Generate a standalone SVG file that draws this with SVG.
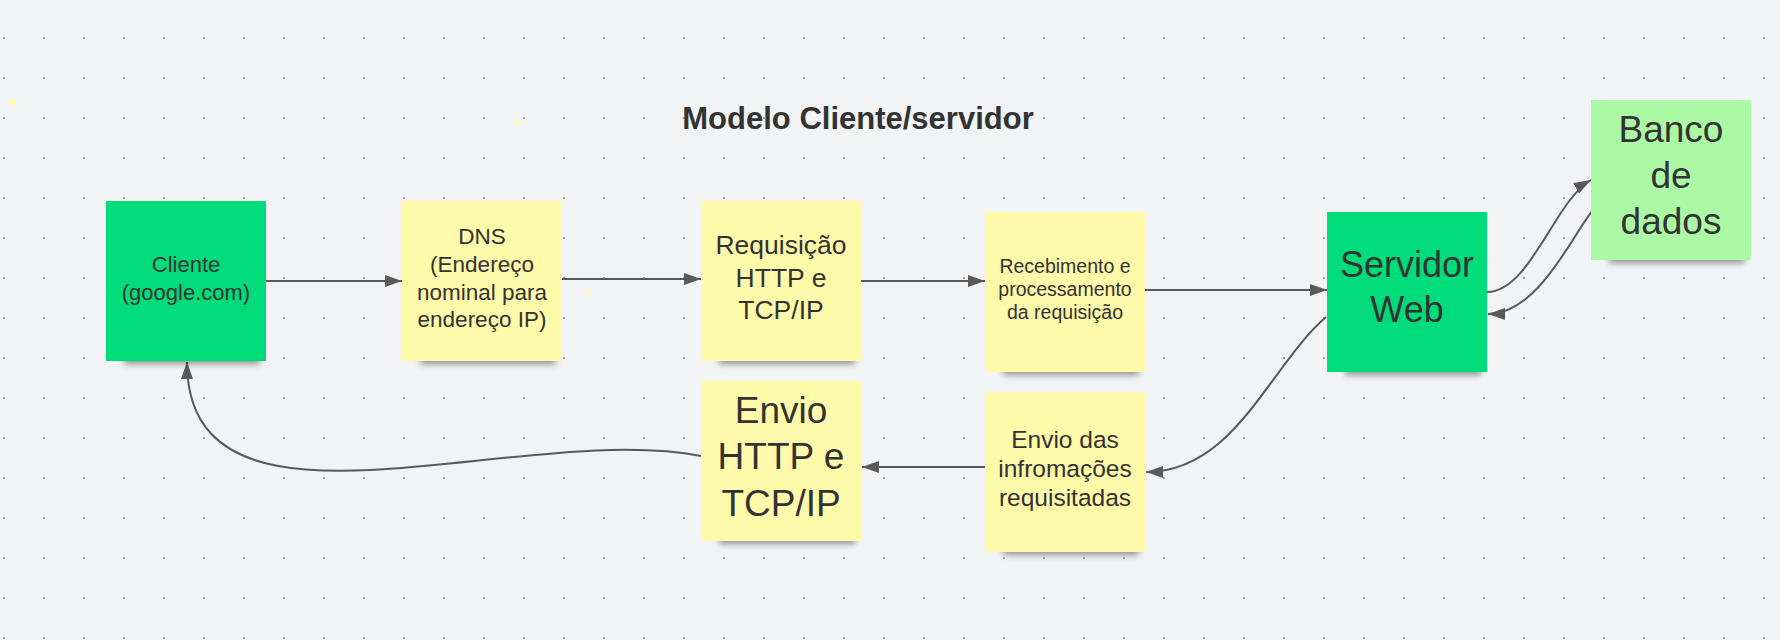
<svg xmlns="http://www.w3.org/2000/svg" width="1780" height="640" viewBox="0 0 1780 640">
  <defs>
    <pattern id="dots" x="0" y="0" width="40" height="40" patternUnits="userSpaceOnUse">
      <circle cx="4" cy="38" r="0.9" fill="#777777"/>
    </pattern>
    <filter id="blur" x="-20%" y="-100%" width="140%" height="300%">
      <feGaussianBlur stdDeviation="3"/>
    </filter>
    <marker id="arrow" markerUnits="userSpaceOnUse" markerWidth="18" markerHeight="14" refX="17" refY="6" orient="auto">
      <path d="M0,0 L17,6 L0,12 z" fill="#595959"/>
    </marker>
    <style>
      .bg { fill: #f2f3f5; }
      .shadow { fill: #000; opacity: 0.4; filter: url(#blur); }
      .green { fill: #00dc7a; }
      .lgreen { fill: #abf9a5; }
      .yellow { fill: #fff9aa; }
      .t { font-family: "Liberation Sans", Arial, sans-serif; fill: #333333; text-anchor: middle; }
      .title { font-family: "Liberation Sans", Arial, sans-serif; font-weight: bold; font-size: 31px; fill: #333333; text-anchor: middle; }
      .conn { fill: none; stroke: #595959; stroke-width: 2; marker-end: url(#arrow); }
      .spot { fill: #fff9aa; }
    </style>
  </defs>

  <rect class="bg" x="0" y="0" width="1780" height="640"/>
  <rect x="0" y="0" width="1780" height="640" fill="url(#dots)"/>

  <rect class="spot" x="10" y="100" width="5" height="5"/>
  <rect class="spot" x="515" y="120" width="5" height="5"/>
  <rect class="spot" x="585" y="290" width="5" height="5"/>

  <text class="title" x="858" y="129">Modelo Cliente/servidor</text>

  <g id="connectors">
    <path class="conn" d="M266,281 L402,281"/>
    <path class="conn" d="M562,279 L701,279"/>
    <path class="conn" d="M861,281 L985,281"/>
    <path class="conn" d="M1145,290 L1327,290"/>
    <path class="conn" d="M1487,292 C1530,292 1555,200 1591,180"/>
    <path class="conn" d="M1594,209 C1575,229 1540,314 1488,314"/>
    <path class="conn" d="M1326,317 C1270,365 1235,472 1146,472"/>
    <path class="conn" d="M985,467 L862,467"/>
    <path class="conn" d="M701,456 C520,420 187,560 187,362"/>
  </g>

  <g id="cliente">
    <rect class="shadow" x="124" y="354" width="136" height="10"/>
    <rect class="green" x="106" y="201" width="160" height="160"/>
    <text class="t" font-size="22" x="186"><tspan x="186" y="272">Cliente</tspan><tspan x="186" y="299.5">(google.com)</tspan></text>
  </g>

  <g id="dns">
    <rect class="shadow" x="420" y="354" width="136" height="10"/>
    <rect class="yellow" x="402" y="201" width="160" height="160"/>
    <text class="t" font-size="22.5"><tspan x="482" y="244.3">DNS</tspan><tspan x="482" y="272">(Endereço</tspan><tspan x="482" y="299.7">nominal para</tspan><tspan x="482" y="327.3">endereço IP)</tspan></text>
  </g>

  <g id="requisicao">
    <rect class="shadow" x="719" y="354" width="136" height="10"/>
    <rect class="yellow" x="701" y="201" width="160" height="160"/>
    <text class="t" font-size="26.5"><tspan x="781" y="254.3">Requisição</tspan><tspan x="781" y="286.7">HTTP e</tspan><tspan x="781" y="319">TCP/IP</tspan></text>
  </g>

  <g id="recebimento">
    <rect class="shadow" x="1003" y="365" width="136" height="10"/>
    <rect class="yellow" x="985" y="212" width="160" height="160"/>
    <text class="t" font-size="19.5"><tspan x="1065" y="272.7">Recebimento e</tspan><tspan x="1065" y="296">processamento</tspan><tspan x="1065" y="319.3">da requisição</tspan></text>
  </g>

  <g id="servidor">
    <rect class="shadow" x="1345" y="365" width="136" height="10"/>
    <rect class="green" x="1327" y="212" width="160" height="160"/>
    <text class="t" font-size="36"><tspan x="1407" y="276.7">Servidor</tspan><tspan x="1407" y="321.7">Web</tspan></text>
  </g>

  <g id="banco">
    <rect class="shadow" x="1609" y="253" width="136" height="10"/>
    <rect class="lgreen" x="1591" y="100" width="160" height="160"/>
    <text class="t" font-size="37"><tspan x="1671" y="142.3">Banco</tspan><tspan x="1671" y="188.3">de</tspan><tspan x="1671" y="234.3">dados</tspan></text>
  </g>

  <g id="envio-http">
    <rect class="shadow" x="719" y="534" width="136" height="10"/>
    <rect class="yellow" x="701" y="381" width="160" height="160"/>
    <text class="t" font-size="37"><tspan x="781" y="423.3">Envio</tspan><tspan x="781" y="469.3">HTTP e</tspan><tspan x="781" y="515.7">TCP/IP</tspan></text>
  </g>

  <g id="envio-das">
    <rect class="shadow" x="1003" y="545" width="136" height="10"/>
    <rect class="yellow" x="985" y="392" width="160" height="160"/>
    <text class="t" font-size="24.5"><tspan x="1065" y="447.7">Envio das</tspan><tspan x="1065" y="476.7">infromações</tspan><tspan x="1065" y="505.7">requisitadas</tspan></text>
  </g>
</svg>
